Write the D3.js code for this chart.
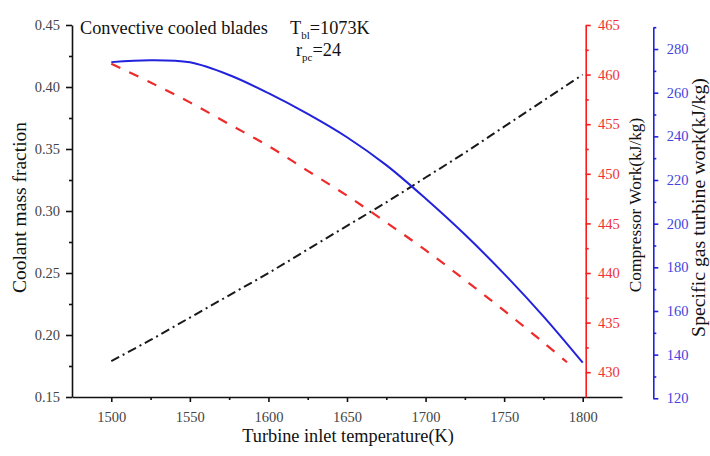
<!DOCTYPE html>
<html>
<head>
<meta charset="utf-8">
<script src="https://cdn.jsdelivr.net/npm/d3@7"></script>
<style>
  html, body { margin: 0; padding: 0; background: #fff; }
  svg { display: block; font-family: "Liberation Serif", "Times New Roman", serif; }
</style>
</head>
<body>
<svg id="chart" width="710" height="456"></svg>
<script>
// ---- data ----
const temps = [1500, 1525, 1550, 1575, 1600, 1625, 1650, 1675, 1700, 1725, 1750, 1775, 1800];
const coolantFraction = [0.179, 0.196, 0.214, 0.232, 0.250, 0.269, 0.288, 0.307, 0.327, 0.347, 0.368, 0.389, 0.410];
const compressorTemps = [1500, 1525, 1550, 1575, 1600, 1625, 1650, 1675, 1700, 1725, 1750, 1775, 1790];
const compressorWork = [461.1, 459.2, 457.2, 455.0, 452.8, 450.3, 447.8, 445.1, 442.3, 439.3, 436.2, 433.0, 431.0];
const turbineWork = [274.0, 274.9, 273.9, 268.1, 259.8, 250.3, 239.6, 226.8, 211.5, 195.0, 177.0, 157.5, 136.3];

const xTicks = [1500, 1550, 1600, 1650, 1700, 1750, 1800];
const xMinor = [1525, 1575, 1625, 1675, 1725, 1775];
const yLeftTicks = [0.15, 0.20, 0.25, 0.30, 0.35, 0.40, 0.45];
const yLeftMinor = [0.175, 0.225, 0.275, 0.325, 0.375, 0.425];
const yRedTicks = [430, 435, 440, 445, 450, 455, 460, 465];
const yRedMinor = [432.5, 437.5, 442.5, 447.5, 452.5, 457.5, 462.5];
const yBlueTicks = [120, 140, 160, 180, 200, 220, 240, 260, 280];
const yBlueMinor = [130, 150, 170, 190, 210, 230, 250, 270, 290];

// ---- layout ----
const svg = d3.select("#chart");
const x0 = 72, x1 = 622, yTop = 25, yBot = 397;
const redX = 585.7, blueX = 653.3;

const x = d3.scaleLinear().domain([1475, 1825]).range([x0, x1]);
const yL = d3.scaleLinear().domain([0.15, 0.45]).range([yBot, yTop]);
const yR = d3.scaleLinear().domain([427.5, 465]).range([yBot, yTop]);
const yB = d3.scaleLinear().domain([120, 290]).range([398.3, 27.2]);

const black = "#111", red = "#ff1a1a", blue = "#2222dd";
const tickFont = 14.5;

function styleAxis(g, color, labelColor) {
  g.select(".domain").attr("stroke", color).attr("stroke-width", 1.6);
  g.selectAll(".tick line").attr("stroke", color).attr("stroke-width", 1.6);
  g.selectAll(".tick text").attr("fill", labelColor).attr("font-size", tickFont)
    .attr("font-family", "Liberation Serif, serif");
}
function minor(g, color) {
  g.select(".domain").remove();
  g.selectAll(".tick line").attr("stroke", color).attr("stroke-width", 1.6);
}

// left axis
const gL = svg.append("g").attr("transform", `translate(${x0},0)`);
gL.call(d3.axisLeft(yL).tickValues(yLeftTicks).tickFormat(d3.format(".2f")).tickSize(6).tickPadding(6).tickSizeOuter(0));
styleAxis(gL, black, "#444");
const gLm = svg.append("g").attr("transform", `translate(${x0},0)`);
gLm.call(d3.axisLeft(yL).tickValues(yLeftMinor).tickFormat("").tickSize(3).tickSizeOuter(0));
minor(gLm, black);

// bottom axis
const gX = svg.append("g").attr("transform", `translate(0,${yBot})`);
gX.call(d3.axisBottom(x).tickValues(xTicks).tickFormat(d3.format("d")).tickSize(5).tickPadding(9.4).tickSizeOuter(0));
styleAxis(gX, black, "#444");
const gXm = svg.append("g").attr("transform", `translate(0,${yBot})`);
gXm.call(d3.axisBottom(x).tickValues(xMinor).tickFormat("").tickSize(3).tickSizeOuter(0));
minor(gXm, black);

// red axis
const gR = svg.append("g").attr("transform", `translate(${redX},0)`);
gR.call(d3.axisRight(yR).tickValues(yRedTicks).tickFormat(d3.format("d")).tickSize(5).tickPadding(7.3).tickSizeOuter(0));
styleAxis(gR, red, "#ee3333");
const gRm = svg.append("g").attr("transform", `translate(${redX},0)`);
gRm.call(d3.axisRight(yR).tickValues(yRedMinor).tickFormat("").tickSize(3).tickSizeOuter(0));
minor(gRm, red);

// blue axis
const gB = svg.append("g").attr("transform", `translate(${blueX},0)`);
gB.call(d3.axisRight(yB).tickValues(yBlueTicks).tickFormat(d3.format("d")).tickSize(5).tickPadding(8.4).tickSizeOuter(0));
styleAxis(gB, blue, "#4444dd");
const gBm = svg.append("g").attr("transform", `translate(${blueX},0)`);
gBm.call(d3.axisRight(yB).tickValues(yBlueMinor).tickFormat("").tickSize(3).tickSizeOuter(0));
minor(gBm, blue);

// ---- lines ----
const lineCoolant = d3.line().curve(d3.curveCatmullRom)
  .x((d, i) => x(temps[i])).y(d => yL(d));
svg.append("path").datum(coolantFraction).attr("d", lineCoolant)
  .attr("fill", "none").attr("stroke", "#1a1a1a").attr("stroke-width", 2)
  .attr("stroke-dasharray", "9,4,2,4");

const lineComp = d3.line().curve(d3.curveCatmullRom)
  .x((d, i) => x(compressorTemps[i])).y(d => yR(d));
svg.append("path").datum(compressorWork).attr("d", lineComp)
  .attr("fill", "none").attr("stroke", "#ee2a2a").attr("stroke-width", 2.2)
  .attr("stroke-dasharray", "10,10");

const lineTurb = d3.line().curve(d3.curveCatmullRom)
  .x((d, i) => x(temps[i])).y(d => yB(d));
svg.append("path").datum(turbineWork).attr("d", lineTurb)
  .attr("fill", "none").attr("stroke", blue).attr("stroke-width", 2);

// ---- texts ----
svg.append("text").attr("x", 80).attr("y", 34).attr("font-size", 18.3).attr("fill", "#111")
  .text("Convective cooled blades");

const t1 = svg.append("text").attr("x", 290).attr("y", 34).attr("font-size", 18.3).attr("fill", "#111");
t1.append("tspan").text("T");
t1.append("tspan").attr("font-size", 11).attr("dy", 5).text("bl");
t1.append("tspan").attr("dy", -5).text("=1073K");

const t2 = svg.append("text").attr("x", 296).attr("y", 56).attr("font-size", 18.3).attr("fill", "#111");
t2.append("tspan").text("r");
t2.append("tspan").attr("font-size", 11).attr("dy", 5).text("pc");
t2.append("tspan").attr("dy", -5).text("=24");

svg.append("text").attr("transform", "translate(26,207.5) rotate(-90)")
  .attr("text-anchor", "middle").attr("font-size", 19.5).attr("fill", "#111")
  .text("Coolant mass fraction");

svg.append("text").attr("x", 348).attr("y", 442)
  .attr("text-anchor", "middle").attr("font-size", 18.3).attr("fill", "#111")
  .text("Turbine inlet temperature(K)");

svg.append("text").attr("transform", "translate(641,205) rotate(-90)")
  .attr("text-anchor", "middle").attr("font-size", 17.3).attr("fill", "#111")
  .text("Compressor Work(kJ/kg)");

svg.append("text").attr("transform", "translate(705,207.5) rotate(-90)")
  .attr("text-anchor", "middle").attr("font-size", 19.8).attr("fill", "#111")
  .text("Specific gas turbine work(kJ/kg)");
</script>
</body>
</html>
